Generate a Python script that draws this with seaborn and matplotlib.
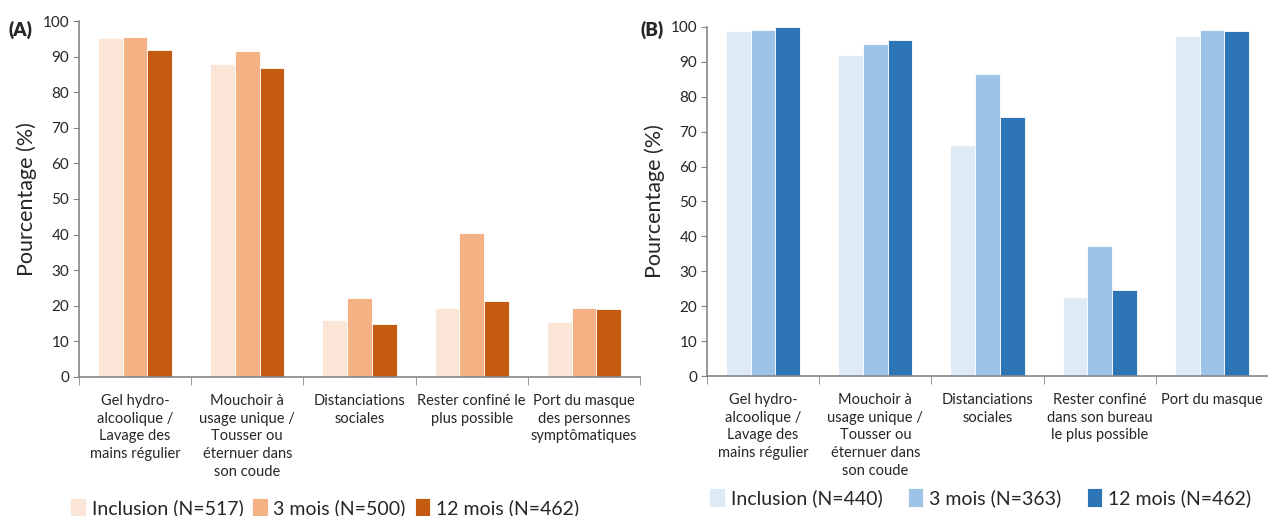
import pandas as pd
import seaborn as sns
import matplotlib.pyplot as plt

# -------------------------
# Data
# -------------------------
periods_a = ["Inclusion (N=517)", "3 mois (N=500)", "12 mois (N=462)"]
periods_b = ["Inclusion (N=440)", "3 mois (N=363)", "12 mois (N=462)"]

labels_a = ["Gel hydro-\nalcoolique /\nLavage des\nmains régulier",
            "Mouchoir à\nusage unique /\nTousser ou\néternuer dans\nson coude",
            "Distanciations\nsociales",
            "Rester confiné le\nplus possible",
            "Port du masque\ndes personnes\nsymptômatiques"]
labels_b = ["Gel hydro-\nalcoolique /\nLavage des\nmains régulier",
            "Mouchoir à\nusage unique /\nTousser ou\néternuer dans\nson coude",
            "Distanciations\nsociales",
            "Rester confiné\ndans son bureau\nle plus possible",
            "Port du masque"]

inclusion_a = [95.3, 87.9, 16.0, 19.3, 15.5]
mois3_a = [95.6, 91.6, 22.1, 40.5, 19.4]
mois12_a = [91.9, 86.7, 14.8, 21.3, 19.1]

inclusion_b = [98.8, 91.9, 66.3, 22.6, 97.4]
mois3_b = [99.1, 95.2, 86.5, 37.3, 99.1]
mois12_b = [100.0, 96.3, 74.1, 24.6, 98.9]

colors_a = ["#FBE5D6", "#F4B183", "#C55A11"]
colors_b = ["#DEEBF7", "#9DC3E6", "#2E75B6"]


def long_df(labels, periods, series):
    rows = []
    for p, vals in zip(periods, series):
        for lab, v in zip(labels, vals):
            rows.append({"cat": lab, "period": p, "value": v})
    return pd.DataFrame(rows)


df_a = long_df(labels_a, periods_a, [inclusion_a, mois3_a, mois12_a])
df_b = long_df(labels_b, periods_b, [inclusion_b, mois3_b, mois12_b])

sns.set_style("white")
plt.rcParams["font.family"] = ["Lato", "DejaVu Sans"]

fig = plt.figure(figsize=(12.68, 5.16), dpi=100)
ax_a = fig.add_axes([0.0623, 0.2694, 0.4424, 0.6899])
ax_b = fig.add_axes([0.5576, 0.2713, 0.4424, 0.6764])

grey = "#868686"


def draw(ax, df, labels, periods, colors, tag, tag_x, legend_anchor, colspace):
    sns.barplot(data=df, x="cat", y="value", hue="period", order=labels,
                hue_order=periods, palette=colors, width=0.66, ax=ax,
                edgecolor="white", linewidth=0.6, saturation=1)
    ax.set_ylim(0, 100)
    ax.set_xlim(-0.5, 4.5)
    ax.set_yticks(range(0, 101, 10))
    ax.tick_params(axis="y", labelsize=11, length=4, color=grey, direction="out", left=True, pad=3)
    ax.set_xticks(range(5))
    ax.set_xticklabels(labels, fontsize=10.5, linespacing=1.35)
    ax.set_xticks([i - 0.5 for i in range(6)], minor=True)
    ax.tick_params(axis="x", which="major", length=0, pad=12)
    ax.tick_params(axis="x", which="minor", length=6, color=grey, direction="out", bottom=True)
    for s in ["top", "right"]:
        ax.spines[s].set_visible(False)
    for s in ["left", "bottom"]:
        ax.spines[s].set_color(grey)
        ax.spines[s].set_linewidth(1.2)
    ax.set_xlabel("")
    ax.set_ylabel("Pourcentage (%)", fontsize=15.5, labelpad=4)
    fig.text(tag_x, 0.942, tag, fontsize=13.5, fontweight="heavy", ha="left", va="center")
    handles, lbls = ax.get_legend_handles_labels()
    ax.get_legend().remove()
    fig.legend(handles, lbls, loc="center", bbox_to_anchor=legend_anchor, ncol=3,
               frameon=False, fontsize=14, handlelength=0.8, handleheight=1.1,
               handletextpad=0.3, columnspacing=colspace)


draw(ax_a, df_a, labels_a, periods_a, colors_a, "(A)", 0.007, (0.256, 0.016), 0.45)
draw(ax_b, df_b, labels_b, periods_b, colors_b, "(B)", 0.505, (0.773, 0.036), 1.3)

fig.savefig("out.png", dpi=100)
